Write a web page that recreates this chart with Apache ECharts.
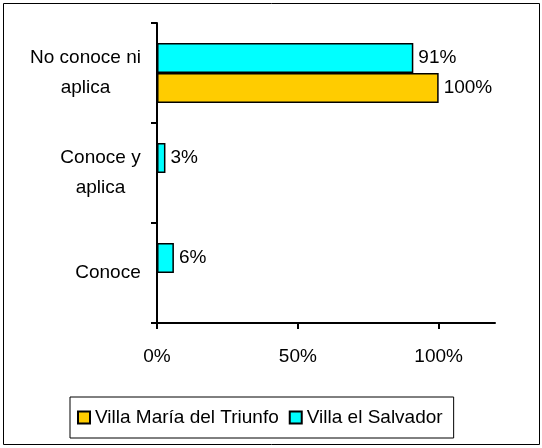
<!DOCTYPE html>
<html>
<head>
<meta charset="utf-8">
<script src="https://cdn.jsdelivr.net/npm/echarts@6/dist/echarts.min.js"></script>
<style>
  html, body { margin: 0; padding: 0; background: #fff; }
  #main { width: 542px; height: 448px; }
</style>
</head>
<body>
<div id="main"></div>
<script>
// bottom to top, as the category axis runs
const categories = ["Conoce", "Conoce y\naplica", "No conoce ni\naplica"];
const seriesNames = ["Villa María del Triunfo", "Villa el Salvador"];
const vmtValues = [null, null, 100];
const vesValues = [6, 3, 91];
const xTicks = [0, 50, 100];

const FONT = "Liberation Sans";
const FS = 19;

// each label block is right-aligned to the axis, its lines centred inside it
const ctx = document.createElement("canvas").getContext("2d");
ctx.font = FS + "px '" + FONT + "'";
const rich = {};
categories.forEach((c, i) => {
   const w = Math.max(...c.split("\n").map((l) => ctx.measureText(l).width));
   rich["c" + i] = { width: Math.ceil(w), align: "center", fontSize: FS, fontFamily: FONT, color: "#000", lineHeight: 30 };
});

const myChart = echarts.init(document.getElementById("main"));

const barLabel = {
   show: true,
   position: "right",
   distance: 5,
   color: "#000",
   fontSize: FS,
   fontFamily: FONT,
   formatter: "{c}%",
};

const option = {
   animation: false,
   backgroundColor: "#fff",
   textStyle: { fontFamily: FONT },
   graphic: [
      {
         type: "rect",
         shape: { x: 3.5, y: 3.5, width: 536, height: 441 },
         style: { fill: null, stroke: "#000", lineWidth: 1 },
         silent: true,
      },
   ],
   grid: { left: 157, right: 47, top: 23, bottom: 125 },
   legend: {
      data: seriesNames,
      left: 70,
      top: 397,
      orient: "horizontal",
      icon: "rect",
      itemWidth: 12,
      itemHeight: 12,
      itemGap: 10,
      padding: [11, 11, 11, 7],
      borderColor: "#000",
      borderWidth: 1,
      textStyle: { color: "#000", fontSize: FS, fontFamily: FONT },
   },
   xAxis: {
      type: "value",
      min: 0,
      max: 120,
      interval: 50,
      axisLine: { show: true, lineStyle: { color: "#000", width: 2 } },
      axisTick: { show: true, length: 6, customValues: xTicks, lineStyle: { color: "#000", width: 2 } },
      axisLabel: { customValues: xTicks, formatter: "{value}%", color: "#000", fontSize: FS, fontFamily: FONT, margin: 24 },
      splitLine: { show: false },
   },
   yAxis: {
      type: "category",
      data: categories,
      axisLine: { show: true, lineStyle: { color: "#000", width: 2 } },
      axisTick: { show: true, length: 6, lineStyle: { color: "#000", width: 2 } },
      axisLabel: {
         margin: 16,
         formatter: (value, index) =>
            value.split("\n").map((l) => "{c" + index + "|" + l + "}").join("\n"),
         rich: rich,
      },
   },
   series: [
      {
         name: seriesNames[1],
         type: "bar",
         barWidth: 30,
         barGap: "0%",
         itemStyle: { color: "#00FFFF", borderColor: "#000", borderWidth: 1.5 },
         label: barLabel,
         data: vesValues,
      },
      {
         name: seriesNames[0],
         type: "bar",
         barWidth: 30,
         barGap: "0%",
         itemStyle: { color: "#FFCC00", borderColor: "#000", borderWidth: 1.5 },
         label: barLabel,
         data: vmtValues,
      },
   ],
};

myChart.setOption(option);
</script>
</body>
</html>
